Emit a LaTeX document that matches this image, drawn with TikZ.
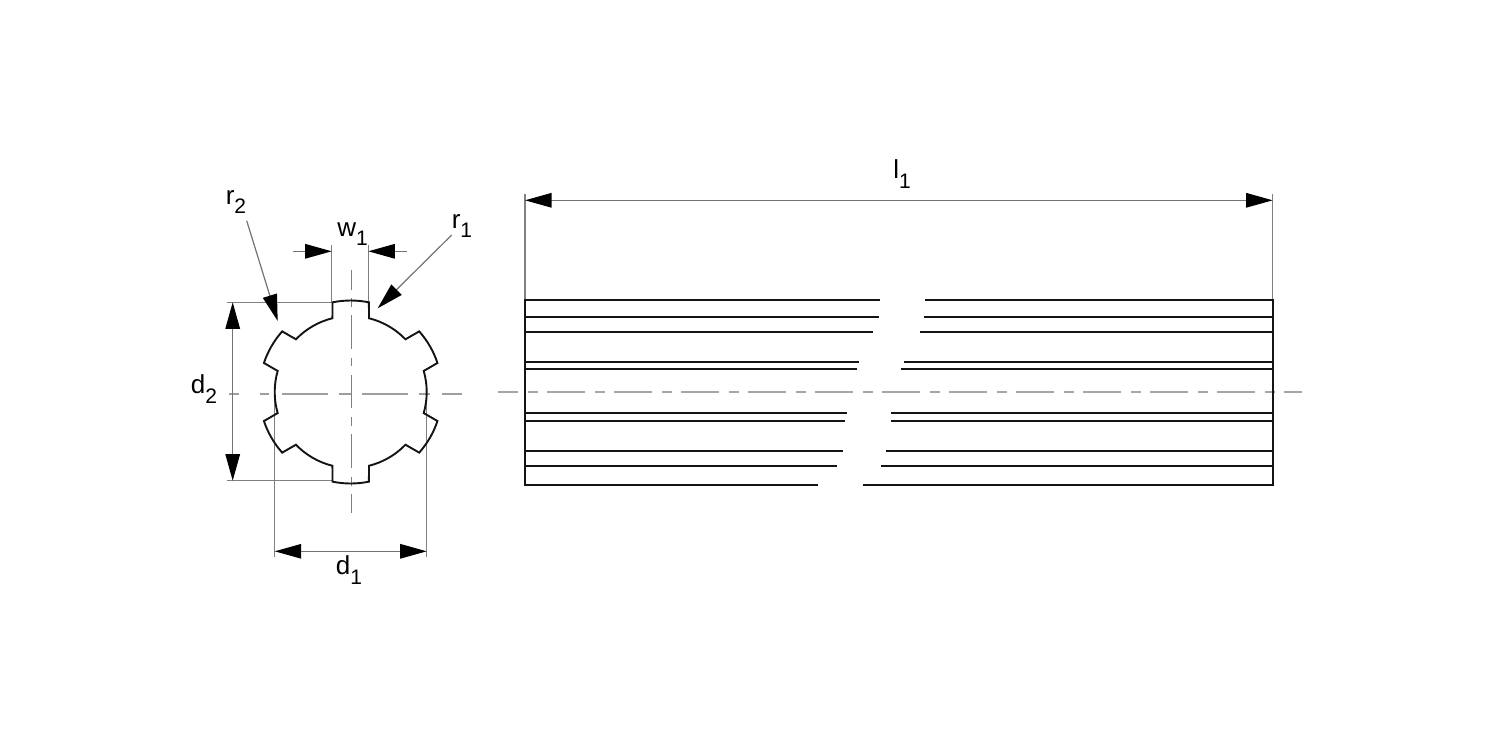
\documentclass[tikz,border=0pt]{standalone}
\usepackage{fontspec}
\setmainfont{Liberation Sans}
\usetikzlibrary{arrows.meta}
\tikzset{
  obj/.style={black!92,line width=1.9pt,line join=miter,line cap=butt},
  thin dim/.style={black!50,line width=1.2pt},
  dimarrow/.style={black!55,line width=1.2pt},
  tipend/.style={-{Triangle[length=26.5pt,width=14.5pt,black]}},
  tipboth/.style={{Triangle[length=26.5pt,width=14.5pt,black]}-{Triangle[length=26.5pt,width=14.5pt,black]}},
  axisH/.style={black!38,line width=1.6pt},
  axisV/.style={black!50,line width=1.3pt},
  axisR/.style={black!35,line width=1.7pt,dash pattern=on 38pt off 9.7pt on 10pt off 9.3pt,dash phase=18pt},
  lbl/.style={font=\fontsize{26}{26}\selectfont,inner sep=0pt,text=black}
}
\newcommand{\subs}[2]{#1\raisebox{-0.36em}{\fontsize{21}{21}\selectfont #2}}
\begin{document}
\begin{tikzpicture}[x=1pt,y=-1pt]
\useasboundingbox (0,0) rectangle (1500,750);
% axes
\draw[axisH] (229,393.7) -- (239,393.7) (260,393.7) -- (269.3,393.7) (282.3,393.7) -- (327.7,393.7) (339.3,393.7) -- (351.3,393.7) (362.3,393.7) -- (407.7,393.7) (419.3,393.7) -- (430,393.7) (442.3,393.7) -- (461.7,393.7);
\draw[axisR] (498.3,391.7) -- (1302,391.7);
\draw[axisV] (351.3,270) -- (351.3,290) (351.3,298.3) -- (351.3,306.7) (351.3,315) -- (351.3,349.3) (351.3,358.3) -- (351.3,366) (351.3,375) -- (351.3,408.3) (351.3,417.3) -- (351.3,425.7) (351.3,434.3) -- (351.3,468.3) (351.3,477.3) -- (351.3,485.7) (351.3,494) -- (351.3,513.3);
% extension lines
\draw[thin dim] (226.7,302.3) -- (331.7,302.3);
\draw[thin dim] (226.7,480.7) -- (331.7,480.7);
\draw[thin dim] (331.7,245) -- (331.7,302.3);
\draw[thin dim] (368.3,245) -- (368.3,302.3);
\draw[thin dim] (274.7,392) -- (274.7,557.3);
\draw[thin dim] (426.7,392) -- (426.7,557.3);
\draw[thin dim] (525,194) -- (525,300);
\draw[thin dim] (1272.7,194) -- (1272.7,300);
% profile
\begin{scope}[shift={(350.7,392)},y=1pt]
\draw[obj] (101.5:91.5)
 \foreach \t in {90,30,-30,-90,-150,-210} {
   arc[start angle=\t+11.5,end angle=\t-11.5,radius=91.5]
   -- (\t-13.9:76)
   arc[start angle=\t-13.9,end angle=\t-46.1,radius=76]
   -- (\t-48.5:91.5)
 } -- cycle;
\end{scope}
% side view
\draw[obj] (525,299) -- (525,485.6);
\draw[obj] (1272.7,299) -- (1272.7,485.6);
\foreach \y/\a/\b in {300/880.3/925,316.7/879/924.3,331.7/873.3/919.7,362.3/858.7/904,369.3/856.7/901,413.3/846.7/891,420.7/845.3/891.3,451/843/886.3,466.3/836.7/881.3,484.7/817.7/862.7}{
  \draw[obj] (525,\y) -- (\a,\y);
  \draw[obj] (\b,\y) -- (1272.7,\y);
}
% dimensions
\draw[dimarrow,tipboth] (232.7,302.3) -- (232.7,480.7);
\draw[dimarrow,tipboth] (274.7,551.3) -- (426.7,551.3);
\draw[dimarrow,tipboth] (525,200.3) -- (1272.7,200.3);
\draw[dimarrow,tipend] (293,251.3) -- (331.7,251.3);
\draw[dimarrow,tipend] (407,251.3) -- (368.3,251.3);
\draw[dimarrow,tipend] (246.7,220.7) -- (277.7,321);
\draw[dimarrow,tipend] (451.7,235) -- (377.7,308.3);
% labels
\node[lbl] (l1) at (902,174) {\subs{l}{1}};
\node[lbl] (w1) at (352.5,234) {\subs{w}{1}};
\node[lbl] (r1) at (462,226) {\subs{r}{1}};
\node[lbl] (r2) at (236,202) {\subs{r}{2}};
\node[lbl] (d2) at (204,389) {\subs{d}{2}};
\node[lbl] (d1) at (349,570) {\subs{d}{1}};
\end{tikzpicture}
\end{document}
